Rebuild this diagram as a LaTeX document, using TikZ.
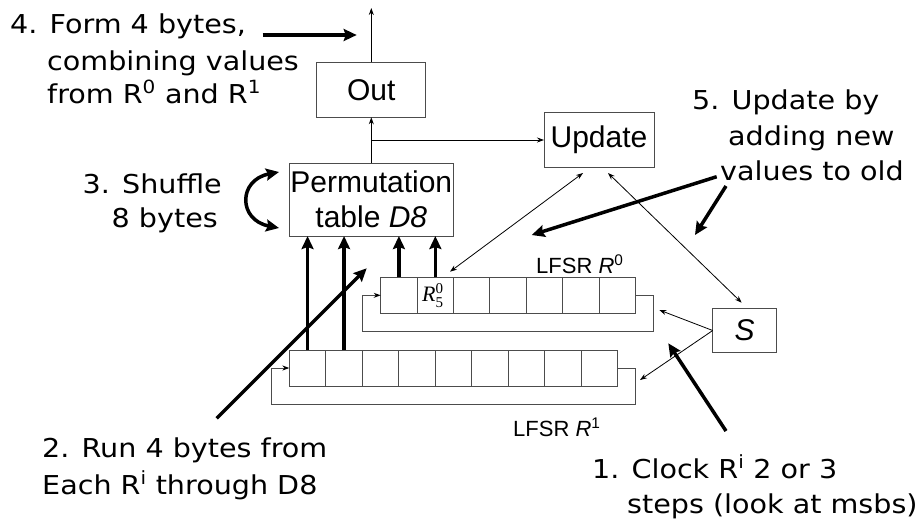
\documentclass[tikz,border=0pt]{standalone}
\usepackage{fontspec}
\setmainfont{Liberation Sans}
\newfontfamily\comicf[FakeStretch=1.1]{DejaVu Sans}
\newfontfamily\seriff{Liberation Serif}
\usetikzlibrary{arrows.meta}
\begin{document}
\begin{tikzpicture}[x=1pt,y=-1pt,
  box/.style={draw=black!70, line width=1pt, inner sep=0pt, outer sep=0pt, font=\fontsize{30}{35}\selectfont},
  cell/.style={draw=black!70, line width=1pt, minimum width=36.43pt, minimum height=36pt, inner sep=0pt, outer sep=0pt},
  note/.style={font=\comicf\fontsize{26}{35}\selectfont, inner sep=0pt, anchor=base west},
  thinarr/.style={line width=0.8pt, -{Stealth[length=7pt,width=5pt]}},
  thinboth/.style={line width=0.8pt, {Stealth[length=7pt,width=5pt]}-{Stealth[length=7pt,width=5pt]}},
  boldarr/.style={line width=3.5pt, -{Stealth[length=13pt,width=12pt,inset=2pt]}},
  boldboth/.style={line width=3.5pt, {Stealth[length=13pt,width=12pt,inset=2pt]}-{Stealth[length=13pt,width=12pt,inset=2pt]}},
  fbline/.style={draw=black!70, line width=1pt, -{Stealth[length=7pt,width=5pt,color=black]}},
  lbl/.style={font=\fontsize{22}{22}\selectfont, inner sep=0pt}
]
\useasboundingbox (0,0) rectangle (918,523);

% boxes
\node[box, minimum width=109.3pt, minimum height=55pt] (out) at (371.3,89.8) {Out};
\node[box, minimum width=164pt, minimum height=72.7pt, align=center] (perm) at (371.3,199.7) {Permutation\\table \textit{D8}};
\node[box, minimum width=110pt, minimum height=54.6pt] (upd) at (599,140) {Update};
\node[box, minimum width=64pt, minimum height=44.4pt] (S) at (744.7,330.5) {\textit{S}};

% registers
\foreach \i in {1,...,7} \node[cell] (a\i) at ({380.7+36.43*(\i-0.5)},295.3) {};
\foreach \i in {1,...,9} \node[cell] (b\i) at ({289.3+36.5*(\i-0.5)},368) {};
\node[inner sep=0pt, anchor=base west] (r50) at (422,301.7) {\seriff\fontsize{22}{22}\selectfont\itshape R\upshape\fontsize{15}{15}\selectfont\rlap{\raisebox{8.7pt}{0}}\raisebox{-5.3pt}{5}};

\node[lbl, anchor=base west] (l0) at (536,273) {LFSR \textit{R}\textsuperscript{0}};
\node[lbl, anchor=base west] (l1) at (513,436) {LFSR \textit{R}\textsuperscript{1}};

% feedback loops
\draw[fbline] (a7.east) -- ++(17.6,0) -- ++(0,35.7) -| ([xshift=-18pt]a1.west) -- (a1.west);
\draw[fbline] (b9.east) -- ++(18,0) -- ++(0,36.3) -| ([xshift=-18.3pt]b1.west) -- (b1.west);

% data flow
\draw[boldarr] (b1.north) -- (b1.north |- perm.south);
\draw[boldarr] (b2.north) -- (b2.north |- perm.south);
\draw[boldarr] (a1.north) -- (a1.north |- perm.south);
\draw[boldarr] (a2.north) -- (a2.north |- perm.south);

\coordinate (top) at (371.3,8);
\draw[thinarr] (out.north) -- (top);
\draw[thinarr] (perm.north) -- (out.south);
\coordinate (j) at (371.3,140);
\draw[thinarr] (j) -- (upd.west);

\coordinate (r0in) at (659.3,310);
\coordinate (r1in) at (640,380);
\draw[thinarr] (S.west) -- (r0in);
\draw[thinarr] (S.west) -- (r1in);
\coordinate (u1) at (583,173);
\coordinate (u2) at (608,173);
\coordinate (stop) at (741.7,302.7);
\coordinate (r5top) at (450,271.7);
\draw[thinboth] (u2) -- (stop);
\draw[thinboth] (u1) -- (r5top);

% annotation arrows
\coordinate (c4a) at (262.7,35);
\coordinate (c4b) at (356.7,35);
\draw[boldarr] (c4a) -- (c4b);
\coordinate (c5a) at (716.7,176.7);
\coordinate (c5b) at (531.7,235);
\coordinate (c5c) at (726,186);
\coordinate (c5d) at (695,235);
\draw[boldarr] (c5a) -- (c5b);
\draw[boldarr] (c5c) -- (c5d);
\coordinate (c2a) at (216.7,418.3);
\coordinate (c2b) at (366.7,268.3);
\draw[boldarr] (c2a) -- (c2b);
\coordinate (c1a) at (726,431);
\coordinate (c1b) at (668.3,343.3);
\draw[boldarr] (c1a) -- (c1b);
\coordinate (c3a) at (279,172);
\coordinate (c3b) at (279,228);
\draw[boldboth] (c3a) .. controls (238,180) and (238,220) .. (c3b);

% notes
\node[note] (n4a) at (10,33) {4. Form 4 bytes,};
\node[note] (n4b) at (47,70) {combining values};
\node[note] (n4c) at (47,103) {from R\textsuperscript{0} and R\textsuperscript{1}};
\node[note, anchor=base east] (n3a) at (222,193) {3. Shuffle};
\node[note, anchor=base east] (n3b) at (218,227) {8 bytes};
\node[note] (n5a) at (692,109) {5. Update by};
\node[note] (n5b) at (728,145) {adding new};
\node[note] (n5c) at (720,180) {values to old};
\node[note] (n2a) at (42,457) {2. Run 4 bytes from};
\node[note] (n2b) at (42,494) {Each R\textsuperscript{i} through D8};
\node[note] (n1a) at (592,478) {1. Clock R\textsuperscript{i} 2 or 3};
\node[note] (n1b) at (627,513) {steps (look at msbs)};
\end{tikzpicture}
\end{document}
